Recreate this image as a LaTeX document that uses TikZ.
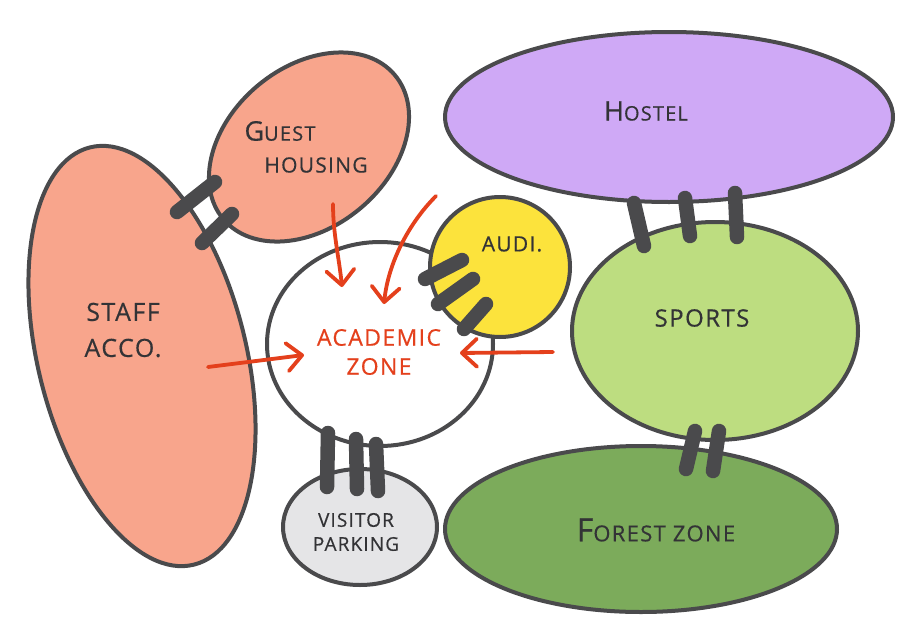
\documentclass[tikz,border=0pt]{standalone}
\usepackage{fontspec}
\newfontfamily\hand[LetterSpace=6,FakeBold=0.5]{Open Sans}
\usetikzlibrary{arrows.meta,shapes.geometric}
\definecolor{ink}{HTML}{4A4A4C}
\definecolor{txt}{HTML}{333336}
\definecolor{salmon}{HTML}{F8A58C}
\definecolor{lilac}{HTML}{CFA9F6}
\definecolor{sun}{HTML}{FCE33C}
\definecolor{lime}{HTML}{BDDD80}
\definecolor{moss}{HTML}{7CAB5B}
\definecolor{fog}{HTML}{E5E5E7}
\definecolor{flowred}{HTML}{E4401C}
\newcommand{\fs}[1]{\fontsize{#1}{#1}\selectfont}
\newcommand{\fsb}[2]{\fontsize{#1}{#2}\selectfont}

\begin{document}
\begin{tikzpicture}[x=1pt, y=-1pt,
    zone/.style={ellipse, draw=ink, line width=4pt, inner sep=0pt, outer sep=0pt},
    tag/.style={font=\hand\fs{24}, text=txt, align=center},
    link/.style={draw=ink, line width=14.5pt, line cap=round},
    flow/.style={draw=flowred, line width=3.8pt, line cap=round,
        -{Straight Barb[length=15pt,width=28pt,round]}}
]
\useasboundingbox (0,0) rectangle (910,632);

% zones
\node[zone, fill=salmon, minimum width=208, minimum height=430, rotate=14] (staff) at (142,356) {};
\node[zone, fill=salmon, minimum width=224, minimum height=160, rotate=40] (guest) at (309,147) {};
\node[zone, fill=lilac, minimum width=448, minimum height=170] (hostel) at (669,117) {};
\node[zone, fill=white, minimum width=226, minimum height=204] (acad) at (380,344) {};
\node[zone, fill=sun, minimum width=140, minimum height=140] (audi) at (500,267) {};
\node[zone, fill=fog, minimum width=154, minimum height=116] (park) at (360,527) {};
\node[zone, fill=lime, minimum width=286, minimum height=218] (sports) at (715,331) {};
\node[zone, fill=moss, minimum width=392, minimum height=166] (forest) at (641,529) {};

% links
\coordinate (sg1a) at (177,212); \coordinate (sg1b) at (215,182);
\coordinate (sg2a) at (202,243); \coordinate (sg2b) at (232,214);
\coordinate (aa1a) at (425,279); \coordinate (aa1b) at (462,260);
\coordinate (aa2a) at (438,304); \coordinate (aa2b) at (473,279);
\coordinate (aa3a) at (464,329); \coordinate (aa3b) at (486,304);
\coordinate (vp1a) at (328,433); \coordinate (vp1b) at (327,487);
\coordinate (vp2a) at (356,439); \coordinate (vp2b) at (357,489);
\coordinate (vp3a) at (376,444); \coordinate (vp3b) at (378,491);
\coordinate (hs1a) at (634,203); \coordinate (hs1b) at (644,246);
\coordinate (hs2a) at (685,198); \coordinate (hs2b) at (690,236);
\coordinate (hs3a) at (735,193); \coordinate (hs3b) at (737,237);
\coordinate (sf1a) at (695,431); \coordinate (sf1b) at (686,469);
\coordinate (sf2a) at (719,431); \coordinate (sf2b) at (713,471);
\foreach \l in {sg1,sg2,aa1,aa2,aa3,vp1,vp2,vp3,hs1,hs2,hs3,sf1,sf2}
    \draw[link] (\l a) -- (\l b);

% flows into the academic zone
\coordinate (g0) at (333,204); \coordinate (g1) at (342,287);
\coordinate (l0) at (436,196); \coordinate (l1) at (384,304);
\coordinate (s0) at (208,367); \coordinate (s1) at (304,355);
\coordinate (p0) at (553,352); \coordinate (p1) at (460,353);
\draw[flow] (g0) .. controls +(0,30) and +(-3,-30) .. (g1);
\draw[flow] (l0) .. controls +(-28,28) and +(4,-40) .. (l1);
\draw[flow] (s0) -- (s1);
\draw[flow] (p0) -- (p1);

% labels
\node[tag] (guesttop) at (280,131) {{\fs{27}G}\fs{20}UEST};
\node[tag, font=\hand\fs{21}] (guestbot) at (316,165) {HOUSING};
\node[tag, font=\hand\fsb{25}{36}] (stafftxt) at (123,330) {STAFF\\ACCO.};
\node[tag] (hosteltxt) at (646,111) {{\fs{27}H}\fs{20}OSTEL};
\node[tag, font=\hand\fs{21}] (auditxt) at (512,244) {AUDI.};
\node[tag] (sportstxt) at (702,318) {SPORTS};
\node[tag, text=flowred, font=\hand\fsb{23}{29}] (acadtxt) at (379,352) {ACADEMIC\\ZONE};
\node[tag, font=\hand\fsb{19}{24}] (parktxt) at (356,532) {VISITOR\\PARKING};
\node[tag] (foresttxt) at (656,530) {{\fs{32}F}\fs{22}OREST ZONE};
\end{tikzpicture}
\end{document}
